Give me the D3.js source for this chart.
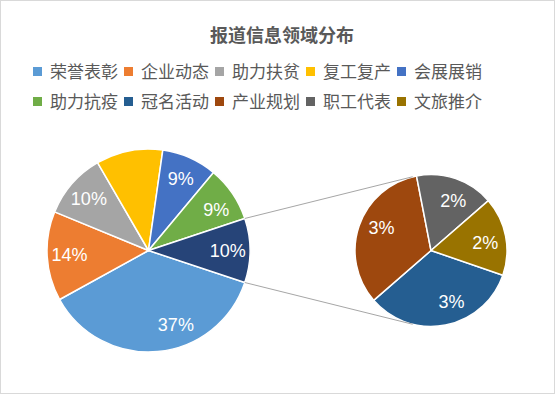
<!DOCTYPE html>
<html><head><meta charset="utf-8">
<script src="https://cdn.jsdelivr.net/npm/d3@7"></script>
<style>html,body{margin:0;padding:0;background:#fff;}svg{display:block;}</style>
</head><body>
<svg id="chart" width="555" height="394"></svg>
<script>
// ---- data ----
const title = "报道信息领域分布";
const categories = ["荣誉表彰","企业动态","助力扶贫","复工复产","会展展销","助力抗疫","冠名活动","产业规划","职工代表","文旅推介"];
const values = [36.8, 14.2, 10.4, 10.6, 8.8, 8.8, 3.4, 3.4, 1.7, 1.7];
const colors = ["#5B9BD5","#ED7D31","#A5A5A5","#FFC000","#4472C4","#70AD47","#255E91","#9E480E","#636363","#997300"];
const secondaryCount = 4;           // last 4 categories go to the secondary pie
const otherColor = "#264478";
const hiddenLabels = ["复工复产"];  // no data label in the reference

// ---- layout ----
const svg = d3.select("#chart");
const W = 555, H = 394;
svg.append("rect").attr("x",0.5).attr("y",0.5).attr("width",W-1).attr("height",H-1)
  .attr("fill","#fff").attr("stroke","#D9D9D9");

svg.append("text").attr("x",282).attr("y",42).attr("text-anchor","middle")
  .attr("font-family","'Noto Sans CJK SC'").attr("font-weight","bold")
  .attr("font-size",18).attr("fill","#595959").text(title);

// legend
const legX = [33, 124, 215, 306, 397];
const legY = [71.5, 101.5];
const leg = svg.append("g");
categories.forEach((c,i)=>{
  const col = i % 5, row = Math.floor(i/5);
  const g = leg.append("g").attr("transform",`translate(${legX[col]},${legY[row]})`);
  g.append("rect").attr("x",0).attr("y",-4.5).attr("width",9).attr("height",9).attr("fill",colors[i]);
  g.append("text").attr("x",17).attr("y",0).attr("dy","0.36em")
    .attr("font-family","'Noto Sans CJK SC'").attr("font-size",17).attr("fill","#595959").text(c);
});

const total = d3.sum(values);
const nMain = categories.length - secondaryCount;
const mainData = categories.slice(0,nMain).map((c,i)=>({name:c,value:values[i],color:colors[i]}));
const secData = categories.slice(nMain).map((c,i)=>({name:c,value:values[nMain+i],color:colors[nMain+i]}));
const otherValue = d3.sum(secData, d=>d.value);
mainData.push({name:"其他",value:otherValue,color:otherColor});

const fmt = v => Math.round(v/total*100) + "%";

// main pie
const mc = {x:148.5, y:250.5}, mr = 101.5;
const otherAngle = otherValue/total*2*Math.PI;
const mStart = Math.PI/2 + otherAngle/2;
const mainPie = d3.pie().sort(null).value(d=>d.value).startAngle(mStart).endAngle(mStart+2*Math.PI);
const mainArcs = mainPie(mainData);
const arcM = d3.arc().innerRadius(0).outerRadius(mr);
const gM = svg.append("g").attr("transform",`translate(${mc.x},${mc.y})`);
gM.selectAll("path").data(mainArcs).join("path").attr("d",arcM)
  .attr("fill",d=>d.data.color).attr("stroke","#fff").attr("stroke-width",1.5).attr("stroke-linejoin","round");

// secondary pie
const sc = {x:431, y:250.5}, sr = 76;
const sStart = 109*Math.PI/180;
const secPie = d3.pie().sort(null).value(d=>d.value).startAngle(sStart).endAngle(sStart+2*Math.PI);
const secArcs = secPie(secData);
const arcS = d3.arc().innerRadius(0).outerRadius(sr);
const gS = svg.append("g").attr("transform",`translate(${sc.x},${sc.y})`);
gS.selectAll("path").data(secArcs).join("path").attr("d",arcS)
  .attr("fill",d=>d.data.color).attr("stroke","#fff").attr("stroke-width",1.5).attr("stroke-linejoin","round");

// connector lines: from the "other" slice edge to tangent points on secondary pie
const otherArc = mainArcs[mainArcs.length-1];
function pt(c, r, a){ return [c.x + r*Math.sin(a), c.y - r*Math.cos(a)]; }
function tangent(P, C, r, upper){
  const dx = P[0]-C.x, dy = P[1]-C.y, d = Math.hypot(dx,dy);
  const th = Math.atan2(dy,dx), al = Math.acos(r/d);
  const cands = [th+al, th-al].map(t=>[C.x+r*Math.cos(t), C.y+r*Math.sin(t)]);
  cands.sort((a,b)=>a[1]-b[1]);
  return upper ? cands[0] : cands[1];
}
const pTop = pt(mc, mr, otherArc.startAngle);
const pBot = pt(mc, mr, otherArc.endAngle);
const tTop = tangent(pTop, sc, sr, true);
const tBot = tangent(pBot, sc, sr, false);
[[pTop,tTop],[pBot,tBot]].forEach(([a,b])=>{
  svg.append("line").attr("x1",a[0]).attr("y1",a[1]).attr("x2",b[0]).attr("y2",b[1])
    .attr("stroke","#A6A6A6").attr("stroke-width",1);
});

// labels
const labelStyle = sel => sel.attr("text-anchor","middle").attr("dy","0.36em")
  .attr("font-family","'Liberation Sans', Arial, sans-serif").attr("font-size",18).attr("fill","#fff");
const mainLabelNudge = {"荣誉表彰":-15*Math.PI/180, "助力抗疫":3*Math.PI/180};
mainArcs.forEach(d=>{
  if (hiddenLabels.includes(d.data.name)) return;
  const a = (d.startAngle+d.endAngle)/2 + (mainLabelNudge[d.data.name]||0);
  const rr = mr*0.78;
  gM.append("text").call(labelStyle)
    .attr("x", rr*Math.sin(a)).attr("y", -rr*Math.cos(a)).text(fmt(d.data.value));
});
const secLabelNudge = {"冠名活动":-11*Math.PI/180, "产业规划":6*Math.PI/180, "职工代表":5*Math.PI/180, "文旅推介":3*Math.PI/180};
secArcs.forEach(d=>{
  const a = (d.startAngle+d.endAngle)/2 + (secLabelNudge[d.data.name]||0);
  const rr = sr*0.72;
  gS.append("text").call(labelStyle)
    .attr("x", rr*Math.sin(a)).attr("y", -rr*Math.cos(a)).text(fmt(d.data.value));
});
</script>
</body></html>
